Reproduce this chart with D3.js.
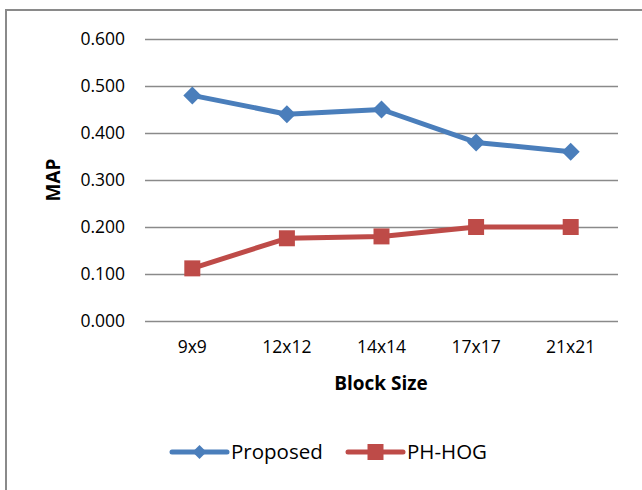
<!DOCTYPE html>
<html>
<head>
<meta charset="utf-8">
<script src="https://cdn.jsdelivr.net/npm/d3@7"></script>
<style>
  html, body { margin: 0; padding: 0; background: #fff; }
  svg { display: block; }
  text { font-family: "Open Sans", "Noto Sans", sans-serif; fill: #000; }
</style>
</head>
<body>
<svg id="chart" width="642" height="490"></svg>
<script>
// Mean average precision for each block size
const categories = ["9x9", "12x12", "14x14", "17x17", "21x21"];
const proposed = [0.480, 0.440, 0.450, 0.380, 0.360];
const phHog = [0.112, 0.176, 0.180, 0.200, 0.200];
const yTicks = [0, 0.1, 0.2, 0.3, 0.4, 0.5, 0.6];
const seriesNames = ["Proposed", "PH-HOG"];

const blue = "#4a7ebb", red = "#be4b48", grid = "#8a8a8a";
const svg = d3.select("#chart");

// outer frame (only top and left edges fall inside the page)
svg.append("path")
  .attr("d", "M6,600 V10 H700")
  .attr("fill", "none").attr("stroke", grid).attr("stroke-width", 2);

const x = d3.scaleBand().domain(categories).range([145, 618]);
const y = d3.scaleLinear().domain([0, 0.6]).range([321, 39]);

// horizontal gridlines + value labels
const yAxis = d3.axisLeft(y).tickValues(yTicks).tickFormat(d3.format(".3f"))
  .tickSize(-(618 - 145)).tickPadding(20);
const gy = svg.append("g").attr("transform", "translate(145,0)").call(yAxis);
gy.select(".domain").remove();
gy.selectAll(".tick line").attr("stroke", grid).attr("stroke-width", 1.5);
gy.selectAll(".tick text").attr("font-size", 17.5).attr("fill", "#000")
  .attr("font-family", "'Open Sans', sans-serif");

// category labels
const xAxis = d3.axisBottom(x).tickSize(0).tickPadding(20);
const gx = svg.append("g").attr("transform", "translate(0,321)").call(xAxis);
gx.select(".domain").remove();
gx.selectAll(".tick text").attr("font-size", 17.5).attr("fill", "#000")
  .attr("font-family", "'Open Sans', sans-serif");

// axis titles
svg.append("text").attr("x", 381).attr("y", 390).attr("text-anchor", "middle")
  .attr("font-size", 19).attr("font-weight", "bold").text("Block Size");
svg.append("text").attr("transform", "translate(60,180) rotate(-90)")
  .attr("text-anchor", "middle").attr("font-size", 19).attr("font-weight", "bold").text("MAP");

const cx = d => x(d) + x.bandwidth() / 2;
const line = d3.line().x((d, i) => cx(categories[i])).y(d => y(d));

function drawSeries(values, color, shape) {
  svg.append("path").datum(values).attr("d", line)
    .attr("fill", "none").attr("stroke", color).attr("stroke-width", 5)
    .attr("stroke-linejoin", "round");
  svg.append("g").selectAll("path").data(values).join("path")
    .attr("transform", (d, i) => `translate(${cx(categories[i])},${y(d)})`)
    .attr("d", shape).attr("fill", color);
}
const diamond = "M0,-9 L9,0 L0,9 L-9,0 Z";
const square = "M-8,-8 H8 V8 H-8 Z";
drawSeries(proposed, blue, diamond);
drawSeries(phHog, red, square);

// legend
const legend = [
  { name: seriesNames[0], color: blue, shape: "M0,-7 L7,0 L0,7 L-7,0 Z", x0: 172 },
  { name: seriesNames[1], color: red, shape: "M-8,-8 H8 V8 H-8 Z", x0: 348 }
];
const lg = svg.append("g").selectAll("g").data(legend).join("g")
  .attr("transform", d => `translate(${d.x0},452)`);
lg.append("line").attr("x1", 0).attr("x2", 55).attr("stroke", d => d.color)
  .attr("stroke-width", 5).attr("stroke-linecap", "round");
lg.append("path").attr("transform", "translate(27.5,0)").attr("d", d => d.shape)
  .attr("fill", d => d.color);
lg.append("text").attr("x", 59).attr("dy", "0.35em").attr("font-size", 20.5).text(d => d.name);
</script>
</body>
</html>
